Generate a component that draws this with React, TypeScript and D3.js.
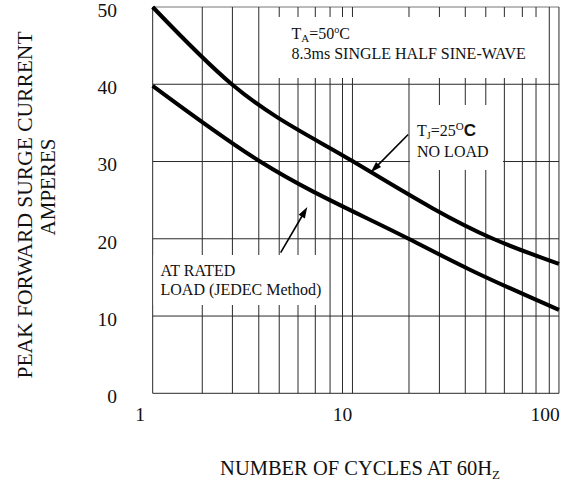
import React from "react";
import * as d3 from "d3";

// ---- data ----
const yTicks = [0, 10, 20, 30, 40, 50];
const xTickLabels = [1, 10, 100];
const xDomain = [1.155, 117.2];
// vertical grid lines as drawn in the original (sloppy datasheet grid)
const xGrid = [2.03, 2.86, 3.86, 4.87, 6.03, 7.34, 8.68, 10, 11.2, 21.3, 30.1, 40.4, 51, 63, 77.3, 90.3, 105];

// T_J = 25°C, no load
const noLoadCycles = [1.155, 2.84, 11.3, 55.4, 117.2];
const noLoadAmps = [50, 40, 30, 20, 16.75];

// at rated load (JEDEC method)
const ratedCycles = [1.155, 3.92, 21.2, 42.6, 117.2];
const ratedAmps = [39.8, 30, 20, 16.0, 10.8];

const W = 571;
const H = 491;
const serif = "'Liberation Serif', 'Times New Roman', Times, serif";

export default function App() {
  const x = d3.scaleLog().domain([1, 100]).range([140, 545]);
  const y = d3.scaleLinear().domain([0, 50]).range([393.3, 7]);

  const x0 = x(xDomain[0]);
  const x1 = x(xDomain[1]);
  const yTop = y(50);
  const yBot = y(0);

  const line = d3
    .line<[number, number]>()
    .x((d) => x(d[0]))
    .y((d) => y(d[1]))
    .curve(d3.curveMonotoneX);

  const noLoad: [number, number][] = noLoadCycles.map((c, i) => [c, noLoadAmps[i]]);
  const rated: [number, number][] = ratedCycles.map((c, i) => [c, ratedAmps[i]]);

  // arrows (data-space anchors)
  const arrows = [
    { from: [21.1, 33.5], to: [13.8, 28.6] },
    { from: [4.95, 18.2], to: [6.7, 24.1] },
  ];

  const arrowHead = (fx: number, fy: number, tx: number, ty: number) => {
    const ang = Math.atan2(ty - fy, tx - fx);
    const len = 11;
    const half = 3.6;
    const bx = tx - len * Math.cos(ang);
    const by = ty - len * Math.sin(ang);
    const px = -Math.sin(ang) * half;
    const py = Math.cos(ang) * half;
    return `M${tx},${ty}L${bx + px},${by + py}L${bx - px},${by - py}Z`;
  };

  const gridColor = "#2a2a2a";

  return (
    <svg
      width={W}
      height={H}
      viewBox={`0 0 ${W} ${H}`}
      style={{ position: "absolute", left: 0, top: 0, background: "#fff" }}
      fontFamily={serif}
    >
      <rect x={0} y={0} width={W} height={H} fill="#fff" />

      {/* horizontal grid */}
      {yTicks.map((t) => (
        <line key={"h" + t} x1={x0} x2={x1} y1={y(t)} y2={y(t)} stroke={t === 50 ? "#777" : gridColor} strokeWidth={1} />
      ))}
      {/* vertical grid + borders */}
      {[xDomain[0], ...xGrid, xDomain[1]].map((v, i) => (
        <line key={"v" + i} x1={x(v)} x2={x(v)} y1={yTop} y2={yBot} stroke={gridColor} strokeWidth={1} />
      ))}

      {/* white label boxes covering the grid */}
      <rect x={276} y={17} width={266} height={61} fill="#fff" />
      <rect x={410} y={105} width={93} height={65} fill="#fff" />
      <rect x={153.5} y={255} width={175.5} height={50} fill="#fff" />

      {/* curves */}
      <path d={line(noLoad) || ""} fill="none" stroke="#000" strokeWidth={4} />
      <path d={line(rated) || ""} fill="none" stroke="#000" strokeWidth={4} />

      {/* arrows */}
      {arrows.map((a, i) => {
        const fx = x(a.from[0]);
        const fy = y(a.from[1]);
        const tx = x(a.to[0]);
        const ty = y(a.to[1]);
        const ang = Math.atan2(ty - fy, tx - fx);
        return (
          <g key={"a" + i}>
            <line x1={fx} y1={fy} x2={tx - 8 * Math.cos(ang)} y2={ty - 8 * Math.sin(ang)} stroke="#000" strokeWidth={1.6} />
            <path d={arrowHead(fx, fy, tx, ty)} fill="#000" />
          </g>
        );
      })}

      {/* annotations */}
      <text x={291.5} y={39} fontSize={16} fill="#111">
        T<tspan fontSize={11} dy={3}>A</tspan>
        <tspan dy={-3}>=50</tspan>
        <tspan fontSize={10} dy={-6}>o</tspan>
        <tspan dy={6}>C</tspan>
      </text>
      <text x={291.5} y={58.5} fontSize={16} fill="#111">
        8.3ms SINGLE HALF SINE-WAVE
      </text>

      <text x={417} y={136} fontSize={16} fill="#111">
        T<tspan fontSize={10} dy={3}>J</tspan>
        <tspan dy={-3}>=25</tspan>
        <tspan fontSize={11} dy={-6}>O</tspan>
        <tspan dy={6} fontFamily="'Liberation Sans', Arial, sans-serif" fontWeight="bold" fontSize={17}>C</tspan>
      </text>
      <text x={417} y={157} fontSize={16} fill="#111">
        NO LOAD
      </text>

      <text x={160.5} y={276} fontSize={16} fill="#111">
        AT RATED
      </text>
      <text x={160.5} y={295} fontSize={16} fill="#111">
        LOAD (JEDEC Method)
      </text>

      {/* y tick labels */}
      {yTicks.map((t) => (
        <text key={"yt" + t} x={117} y={y(t) + 3} dy="0.35em" textAnchor="end" fontSize={19.5} fill="#111">
          {t}
        </text>
      ))}
      {/* x tick labels */}
      {xTickLabels.map((t) => (
        <text key={"xt" + t} x={x(t)} y={421} textAnchor="middle" fontSize={19.5} fill="#111">
          {t}
        </text>
      ))}

      {/* axis titles */}
      <text transform="translate(32,205) rotate(-90)" textAnchor="middle" fontSize={21.5} fill="#111">
        PEAK FORWARD SURGE CURRENT
      </text>
      <text transform="translate(54.5,187) rotate(-90)" textAnchor="middle" fontSize={21} fill="#111">
        AMPERES
      </text>
      <text x={360} y={475} textAnchor="middle" fontSize={20.5} fill="#111">
        NUMBER OF CYCLES AT 60H<tspan fontSize={13} dy={4}>Z</tspan>
      </text>
    </svg>
  );
}
